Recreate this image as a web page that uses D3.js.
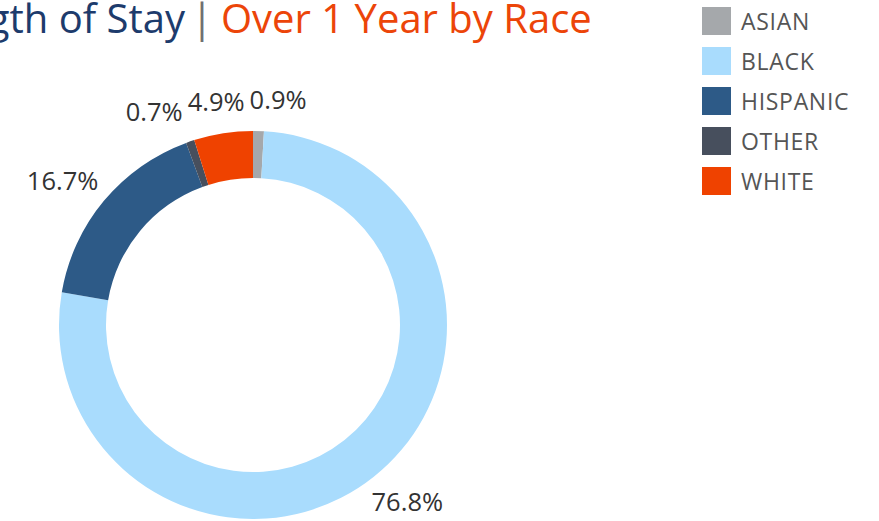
<!DOCTYPE html>
<html>
<head>
<meta charset="utf-8">
<script src="https://cdn.jsdelivr.net/npm/d3@7"></script>
<style>
  body { margin: 0; background: #fff; overflow: hidden; }
  svg { display: block; font-family: "Open Sans", sans-serif; }
</style>
</head>
<body>
<svg width="879" height="521"></svg>
<script>
// Data
const races = ["ASIAN", "BLACK", "HISPANIC", "OTHER", "WHITE"];
const shares = [0.9, 76.8, 16.7, 0.7, 4.9];
const raceColors = ["#a5a8ab", "#a9dcfd", "#2d5a87", "#474f5d", "#ef4200"];

const titleLeft = "Length of Stay";
const titleRight = "Over 1 Year by Race";

const svg = d3.select("svg");

// Title
svg.append("text")
  .attr("x", 185)
  .attr("y", 33)
  .attr("text-anchor", "end")
  .attr("font-size", 40)
  .attr("fill", "#1d3b6c")
  .text(titleLeft);

svg.append("text")
  .attr("x", 202)
  .attr("y", 32)
  .attr("text-anchor", "middle")
  .attr("font-size", 40)
  .attr("fill", "#707070")
  .text("|");

svg.append("text")
  .attr("x", 221)
  .attr("y", 33)
  .attr("font-size", 40)
  .attr("fill", "#ec4509")
  .text(titleRight);

// Donut
const cx = 253, cy = 325;
const outerR = 194, innerR = 147;

const color = d3.scaleOrdinal().domain(races).range(raceColors);

const pie = d3.pie()
  .sort(null)
  .value((d, i) => shares[i]);

const arc = d3.arc().innerRadius(innerR).outerRadius(outerR);

const arcs = pie(races);

const g = svg.append("g").attr("transform", `translate(${cx},${cy})`);

g.selectAll("path")
  .data(arcs)
  .enter()
  .append("path")
  .attr("d", arc)
  .attr("fill", (d) => color(d.data));

// Labels, placed just outside the ring and pushed apart when they collide
const labelR = 212;
const fontSize = 25.5;
const capH = fontSize * 0.714;
const boxH = 27;

const labels = g.selectAll("text.pct")
  .data(arcs)
  .enter()
  .append("text")
  .attr("class", "pct")
  .attr("font-size", fontSize)
  .attr("fill", "#333")
  .attr("text-anchor", "middle")
  .text((d) => shares[d.index].toFixed(1) + "%");

const boxes = [];
labels.each(function (d) {
  const a = (d.startAngle + d.endAngle) / 2;
  const s = Math.sin(a), c = Math.cos(a);
  const w = this.getComputedTextLength();
  boxes.push({
    node: this,
    sin: s,
    w: w,
    x: labelR * s + s * w / 2,
    y: -labelR * c - c * boxH / 2
  });
});

const pad = 5;
for (let it = 0; it < 10; it++) {
  const sorted = boxes.slice().sort((a, b) => a.x - b.x);
  for (let i = 0; i < sorted.length; i++) {
    for (let j = i + 1; j < sorted.length; j++) {
      const a = sorted[i], b = sorted[j];
      const overlapX = a.x + a.w / 2 + pad - (b.x - b.w / 2);
      const overlapY = Math.abs(a.y - b.y) < capH;
      if (overlapX > 0 && overlapY) {
        if (b.sin >= 0) b.x += overlapX;
        else a.x -= overlapX;
      }
    }
  }
}

boxes.forEach((b) => {
  d3.select(b.node)
    .attr("x", b.x)
    .attr("y", b.y + capH / 2);
});

// Legend
const legend = svg.append("g")
  .attr("transform", "translate(702,7)");

const item = legend.selectAll("g")
  .data(races)
  .enter()
  .append("g")
  .attr("transform", (d, i) => `translate(0,${i * 40})`);

item.append("rect")
  .attr("width", 29)
  .attr("height", 28)
  .attr("fill", (d) => color(d));

item.append("text")
  .attr("x", 39)
  .attr("y", 23)
  .attr("font-size", 23)
  .attr("letter-spacing", 0.7)
  .attr("fill", "#555")
  .text((d) => d);
</script>
</body>
</html>
